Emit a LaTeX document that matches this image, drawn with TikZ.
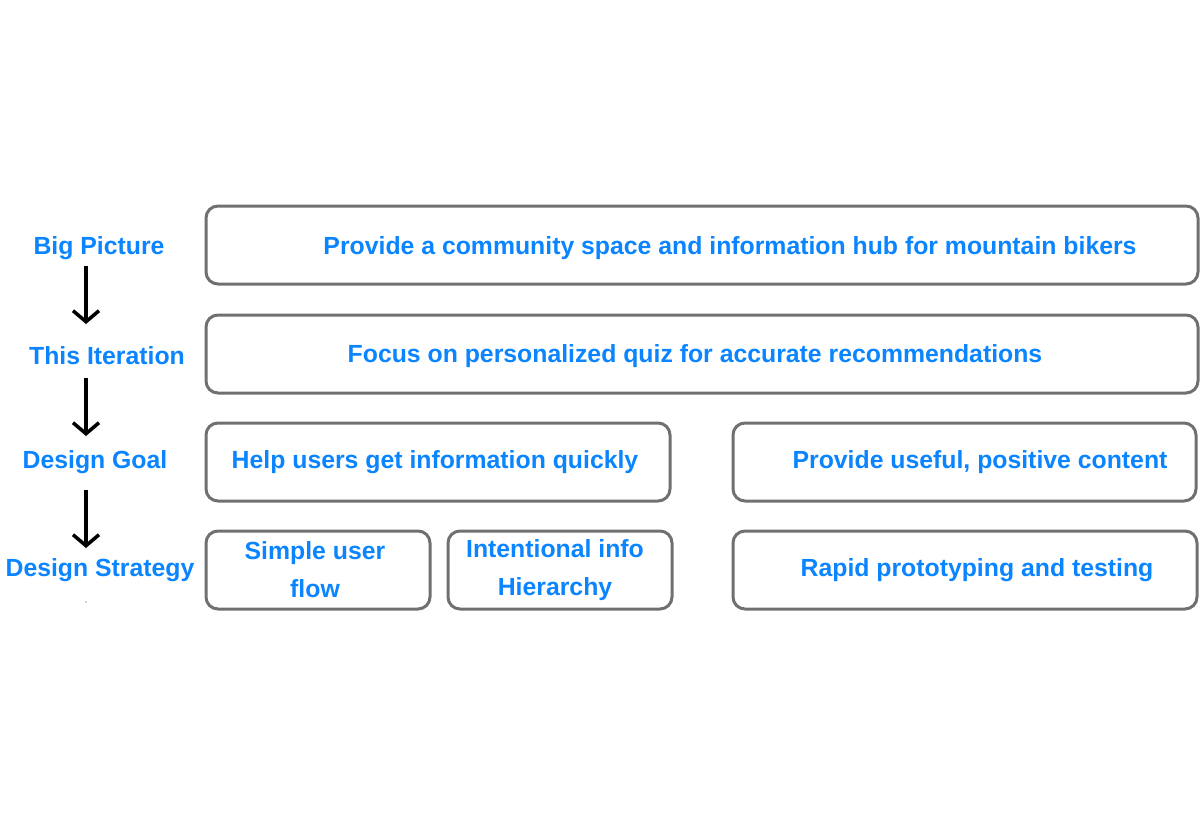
\documentclass[tikz,border=0pt]{standalone}
\usepackage{fontspec}
\setmainfont{Liberation Sans}
\usetikzlibrary{arrows.meta}
\definecolor{txtblue}{RGB}{10,132,255}
\definecolor{boxgray}{RGB}{112,112,112}
\tikzset{
  box/.style={draw=boxgray, line width=3pt, rounded corners=12pt, minimum height=78pt, inner sep=0pt},
  lbl/.style={text=txtblue, font=\bfseries\fontsize{24.8}{28}\selectfont, inner sep=0pt},
  txt/.style={text=txtblue, font=\bfseries\fontsize{24.8}{38}\selectfont, inner sep=0pt, align=center},
  flow/.style={-{Straight Barb[length=11pt,width=26pt,line width=3.5pt]}, line width=3.5pt, black}
}
\begin{document}
\begin{tikzpicture}[x=1pt,y=-1pt]
\useasboundingbox (0,0) rectangle (1200,822);
% boxes
\node[box, minimum width=992pt] (b1) at (702,245) {};
\node[box, minimum width=992pt] (b2) at (702,354) {};
\node[box, minimum width=464pt] (b3a) at (438,462) {};
\node[box, minimum width=463pt] (b3b) at (964.5,462) {};
\node[box, minimum width=224pt] (b4a) at (318,570) {};
\node[box, minimum width=224pt] (b4b) at (560,570) {};
\node[box, minimum width=464pt] (b4c) at (965,570) {};
% texts
\node[txt] (t1) at (730,248) {Provide a community space and information hub for mountain bikers};
\node[txt] (t2) at (695,356) {Focus on personalized quiz for accurate recommendations};
\node[txt] (t3a) at (435,462) {Help users get information quickly};
\node[txt] (t3b) at (980,462) {Provide useful, positive content};
\node[txt] (t4a) at (315,570) {Simple user\\flow};
\node[txt] (t4b) at (555,570) {Intentional info\\Hierarchy};
\node[txt] (t4c) at (977,570) {Rapid prototyping and testing};
% labels
\node[lbl] (l1) at (99,248) {Big Picture};
\node[lbl] (l2) at (107,356) {This Iteration};
\node[lbl] (l3) at (95,462) {Design Goal};
\node[lbl] (l4) at (100,570) {Design Strategy};
% arrows
\coordinate (a1s) at (86,266); \coordinate (a1e) at (86,324);
\coordinate (a2s) at (86,378); \coordinate (a2e) at (86,436);
\coordinate (a3s) at (86,490); \coordinate (a3e) at (86,548);
\draw[flow] (a1s) -- (a1e);
\draw[flow] (a2s) -- (a2e);
\draw[flow] (a3s) -- (a3e);
\fill[boxgray!60] (86,602) circle (0.8pt);
\end{tikzpicture}
\end{document}
